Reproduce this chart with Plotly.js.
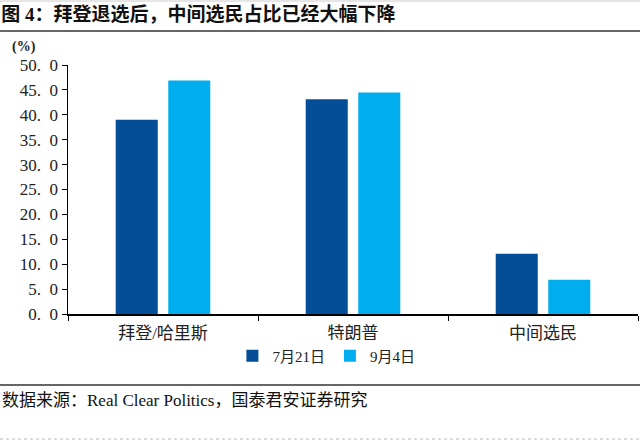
<!DOCTYPE html>
<html>
<head>
<meta charset="utf-8">
<script src="https://cdn.plot.ly/plotly-3.0.1.min.js"></script>
<style>html,body{margin:0;padding:0;background:#fff;}#chart{width:640px;height:442px;}</style>
</head>
<body>
<div id="chart"></div>
<script>
const categories = ['拜登/哈里斯', '特朗普', '中间选民'];
const seriesNames = ['7月21日', '9月4日'];
const jul21 = [39.0, 43.1, 12.1];
const sep4 = [46.9, 44.5, 6.9];
const yTickVals = [0, 5, 10, 15, 20, 25, 30, 35, 40, 45, 50];
const yTickText = ['0.\u00A0\u00A00', '5.\u00A0\u00A00', '10.\u00A0\u00A00', '15.\u00A0\u00A00', '20.\u00A0\u00A00', '25.\u00A0\u00A00', '30.\u00A0\u00A00', '35.\u00A0\u00A00', '40.\u00A0\u00A00', '45.\u00A0\u00A00', '50.\u00A0\u00A00'];
const titleText = '图 4：拜登退选后，中间选民占比已经大幅下降';
const sourceText = '数据来源：Real Clear Politics，国泰君安证券研究';
const unitText = '(%)';

const W = 640, H = 442;
const M = {l: 68, r: 2, t: 65, b: 128};
const pw = W - M.l - M.r, ph = H - M.t - M.b;
const px = x => (x - M.l) / pw;
const py = y => (H - M.b - y) / ph;

const serif = '"Liberation Serif", "Noto Sans CJK SC", serif';
const cjk = '"Liberation Serif", "Noto Sans CJK SC", sans-serif';

const traces = [
  {type: 'bar', name: seriesNames[0], x: categories, y: jul21, marker: {color: '#034E96'}},
  {type: 'bar', name: seriesNames[1], x: categories, y: sep4, marker: {color: '#00AEEF'}}
];

const layout = {
  width: W, height: H,
  margin: M,
  paper_bgcolor: '#fff', plot_bgcolor: '#fff',
  barmode: 'group',
  bargap: 0.447,
  bargroupgap: 0.2,
  showlegend: true,
  title: {
    text: '<b>' + titleText + '</b>',
    font: {family: cjk, size: 19, color: '#111'},
    xref: 'container', yref: 'container',
    x: 0.002, xanchor: 'left',
    y: 1 - 14 / H, yanchor: 'middle'
  },
  legend: {
    orientation: 'h',
    xref: 'container', yref: 'container',
    x: 0.51, xanchor: 'center',
    y: 1 - 356 / H, yanchor: 'middle',
    font: {family: cjk, size: 15, color: '#222'},
    itemwidth: 30,
    traceorder: 'normal'
  },
  xaxis: {
    type: 'category',
    showline: true, linecolor: '#000', linewidth: 1.5,
    ticks: 'outside', tickson: 'boundaries', ticklen: 5, tickcolor: '#000',
    tickfont: {family: cjk, size: 17, color: '#222'},
    ticklabelstandoff: 3,
    showgrid: false, zeroline: false, fixedrange: true
  },
  yaxis: {
    range: [0, 50],
    tickvals: yTickVals, ticktext: yTickText,
    showline: true, linecolor: '#000', linewidth: 1.5,
    ticks: 'outside', ticklen: 5, tickcolor: '#000',
    tickfont: {family: serif, size: 17, color: '#222'},
    showgrid: false, zeroline: false, fixedrange: true
  },
  annotations: [
    {text: '<b>' + unitText + '</b>', xref: 'paper', yref: 'paper', x: px(24), y: py(47),
     xanchor: 'center', yanchor: 'middle', showarrow: false, font: {family: serif, size: 14, color: '#222'}},
    {text: sourceText, xref: 'paper', yref: 'paper', x: px(0), y: py(400),
     xanchor: 'left', yanchor: 'middle', showarrow: false, font: {family: cjk, size: 17, color: '#111'}}
  ],
  shapes: [
    {type: 'line', xref: 'paper', yref: 'paper', x0: px(0), x1: px(640), y0: py(1), y1: py(1), line: {color: '#ccc', width: 1}},
    {type: 'line', xref: 'paper', yref: 'paper', x0: px(0), x1: px(640), y0: py(31), y1: py(31), line: {color: '#333', width: 1.5}},
    {type: 'line', xref: 'paper', yref: 'paper', x0: px(0), x1: px(640), y0: py(385), y1: py(385), line: {color: '#333', width: 1.5}},
    {type: 'line', xref: 'paper', yref: 'paper', x0: px(0), x1: px(640), y0: py(439), y1: py(439), line: {color: '#bbb', width: 1, dash: 'dot'}}
  ]
};

Plotly.newPlot('chart', traces, layout, {displayModeBar: false, staticPlot: true});
</script>
</body>
</html>
